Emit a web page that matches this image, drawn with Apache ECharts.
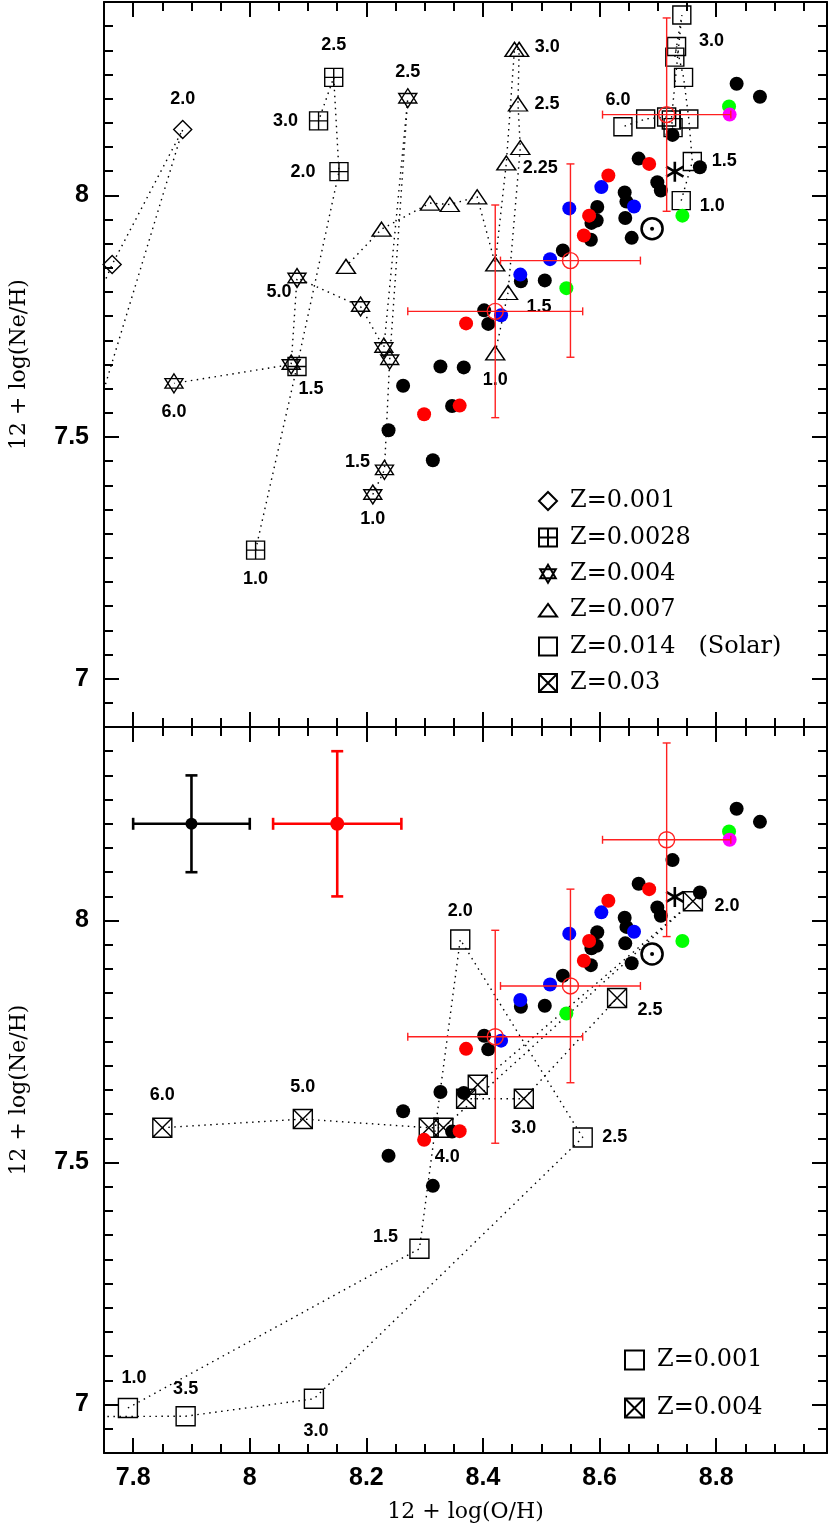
<!DOCTYPE html>
<html>
<head>
<meta charset="utf-8">
<title>12 + log(Ne/H) vs 12 + log(O/H)</title>
<script src="https://cdn.jsdelivr.net/npm/echarts@6/dist/echarts.min.js"></script>
<style>
  html, body { margin: 0; padding: 0; background: #fff; }
  #main { width: 830px; height: 1526px; }
</style>
</head>
<body>
<div id="main"></div>
<script>
// ---------------- data ----------------
// axis ranges and tick labels
var X_MIN = 7.75, X_MAX = 8.99, Y_MIN = 6.9, Y_MAX = 8.4;
var xMajor = [7.8, 8, 8.2, 8.4, 8.6, 8.8];
var yMajor = [7, 7.5, 8];

// observed objects: [12+log(O/H), 12+log(Ne/H)]
var obsBlack = [
  [8.835, 8.231], [8.875, 8.204], [8.725, 8.125], [8.667, 8.076], [8.772, 8.058],
  [8.699, 8.027], [8.705, 8.010], [8.643, 8.006], [8.646, 7.987], [8.596, 7.976],
  [8.595, 7.948], [8.586, 7.943], [8.644, 7.953], [8.585, 7.908], [8.655, 7.912],
  [8.537, 7.886], [8.506, 7.824], [8.465, 7.822], [8.402, 7.762], [8.409, 7.734],
  [8.327, 7.646], [8.367, 7.644], [8.263, 7.606], [8.347, 7.564], [8.238, 7.514],
  [8.314, 7.452]
];
var obsRed = [[8.685, 8.065], [8.615, 8.041], [8.582, 7.958], [8.573, 7.917], [8.371, 7.735], [8.360, 7.565], [8.299, 7.547]];
var obsBlue = [[8.603, 8.017], [8.659, 7.977], [8.548, 7.973], [8.515, 7.868], [8.464, 7.836], [8.431, 7.752]];
var obsGreen = [[8.822, 8.184], [8.742, 7.958], [8.543, 7.808]];
var obsMagenta = [[8.823, 8.167]];
var orionStar = [[8.729, 8.049]];
var solar = [[8.690, 7.931]];

// red open circles with error bars: [x, y, xerr, yerr]
var errRed = [[8.715, 8.167, 0.11, 0.2], [8.550, 7.865, 0.12, 0.2], [8.421, 7.760, 0.15, 0.22]];
// typical errors (lower panel)
var errTypBlack = [[7.90, 8.20, 0.10, 0.10]];
var errTypRed = [[8.15, 8.20, 0.11, 0.15]];

// upper panel model tracks (points in track order) and mass labels
var trackZ001 = [[7.70, 7.68], [7.764, 7.857], [7.885, 8.136], [7.70, 7.40]];
var massZ001 = ['', '', '2.0', ''];
var trackZ0028 = [[8.010, 7.266], [8.081, 7.646], [8.153, 8.049], [8.144, 8.244], [8.118, 8.154]];
var massZ0028 = ['1.0', '1.5', '2.0', '2.5', '3.0'];
var trackZ004 = [[8.211, 7.381], [8.231, 7.432], [8.240, 7.660], [8.271, 8.201], [8.230, 7.685],
  [8.190, 7.770], [8.081, 7.829], [8.071, 7.650], [7.870, 7.611]];
var massZ004 = ['1.0', '1.5', '', '2.5', '', '', '5.0', '', '6.0'];
var trackZ007 = [[8.421, 7.674], [8.443, 7.799], [8.464, 8.099], [8.460, 8.189], [8.462, 8.302],
  [8.454, 8.302], [8.440, 8.067], [8.421, 7.858], [8.390, 7.997], [8.343, 7.981],
  [8.309, 7.984], [8.226, 7.930], [8.165, 7.853]];
var massZ007 = ['1.0', '1.5', '', '2.5', '3.0', '', '2.25', '', '', '', '', '', ''];
var trackZ014 = [[8.740, 7.989], [8.759, 8.070], [8.753, 8.158], [8.744, 8.244], [8.732, 8.308],
  [8.729, 8.286], [8.741, 8.373], [8.723, 8.156], [8.726, 8.140], [8.715, 8.162],
  [8.679, 8.158], [8.640, 8.142]];
var massZ014 = ['1.0', '1.5', '', '', '3.0', '', '', '', '', '', '', '6.0'];

// lower panel model tracks
var trackLowZ001 = [[7.791, 6.993], [8.291, 7.322], [8.361, 7.961], [8.571, 7.552], [8.110, 7.012], [7.890, 6.976], [7.70, 6.975]];
var massLowZ001 = ['1.0', '1.5', '2.0', '2.5', '3.0', '3.5', ''];
var trackLowZ004 = [[7.850, 7.572], [8.091, 7.590], [8.307, 7.572], [8.332, 7.572], [8.760, 8.040],
  [8.391, 7.661], [8.371, 7.632], [8.470, 7.632], [8.630, 7.840]];
var massLowZ004 = ['6.0', '5.0', '', '4.0', '2.0', '', '', '3.0', '2.5'];

// ---------------- layout / style ----------------
// pixel offsets of the mass labels from their marker
var offZ001 = [null, null, [0, -31], null];
var offZ0028 = [[0, 29], [14, 23], [-36, 0], [0, -32], [-33, 0]];
var offZ004 = [[0, 25], [-27, -8], null, [0, -26], null, null, [-18, 14], null, [0, 29]];
var offZ007 = [[0, 27], [31, 15], null, [29, 0], [28, -2], null, [34, 5]];
var offZ014 = [[31, 5], [32, 0], null, null, [35, -5], null, null, null, null, null, null, [-5, -27]];
var offLowZ001 = [[6, -30], [-34, -12], [0, -28], [32, 0], [2, 32], [0, -27], null];
var offLowZ004 = [[0, -33], [0, -32], null, [4, 29], [34, 5], null, null, [0, 29], [33, 12]];

var SANS = 'Liberation Sans';
var SERIF = 'DejaVu Serif';
var SYM_DIAMOND = 'path://M1,0L2,1L1,2L0,1Z';
var SYM_BOXPLUS = 'path://M0,0H2V2H0ZM1,0V2M0,1H2';
var SYM_BOXX = 'path://M0,0H2V2H0ZM0,0L2,2M2,0L0,2';
var SYM_SQUARE = 'path://M0,0H2V2H0Z';
var SYM_STAR = 'path://M0,-1L0.866,0.5L-0.866,0.5ZM0,1L0.866,-0.5L-0.866,-0.5Z';
var SYM_TRI = 'path://M0,0L1,1.4L-1,1.4Z';
var SYM_AST = 'path://M0,-1L0,1M-0.866,-0.5L0.866,0.5M-0.866,0.5L0.866,-0.5';

var HOLLOW = { color: 'rgba(0,0,0,0)', borderColor: '#000', borderWidth: 1.4, opacity: 1 };
var DOT = { color: '#000', width: 1.4, type: [1.5, 4.5] };
var MASS_LABEL = { show: false, position: 'inside', color: '#000', fontSize: 18, fontWeight: 'bold', fontFamily: SANS };

function axes(dir, g, showLabels) {
  var isX = dir === 'x';
  var lo = isX ? X_MIN : Y_MIN, hi = isX ? X_MAX : Y_MAX;
  var major = isX ? xMajor : yMajor;
  var sides = isX ? ['bottom', 'top'] : ['left', 'right'];
  var line = { color: '#000', width: 2 };
  var list = [];
  sides.forEach(function (side, s) {
    list.push({
      type: 'value', gridIndex: g, position: side, min: lo, max: hi,
      splitLine: { show: false },
      axisLine: { show: true, onZero: false, lineStyle: line },
      axisTick: { show: true, inside: true, length: 15, customValues: major, lineStyle: line },
      axisLabel: {
        show: s === 0 && showLabels, customValues: major, color: '#000',
        fontSize: 25, fontWeight: 'bold', fontFamily: SANS, margin: isX ? 13 : 15
      },
      name: s === 0 && showLabels ? (isX ? '12 + log(O/H)' : '12 + log(Ne/H)') : '',
      nameLocation: 'middle', nameGap: isX ? 48 : 74,
      nameTextStyle: { color: '#000', fontSize: 22, fontFamily: SERIF }
    });
    list.push({
      type: 'value', gridIndex: g, position: side, min: lo, max: hi, interval: 0.05,
      splitLine: { show: false },
      axisLine: { show: false, onZero: false },
      axisTick: { show: true, inside: true, length: 9, lineStyle: line },
      axisLabel: { show: false }
    });
  });
  return list;
}

function trackSeries(g, name, pts, masses, offs, symbol, size) {
  var items = pts.map(function (p, i) {
    var it = { value: p };
    if (masses[i]) it.label = { show: true, formatter: masses[i], offset: offs[i] || [0, 0] };
    return it;
  });
  return [
    { type: 'line', name: name + ' track', xAxisIndex: 4 * g, yAxisIndex: 4 * g, data: pts,
      symbol: 'none', lineStyle: DOT, silent: true, z: 2 },
    { type: 'scatter', name: name, xAxisIndex: 4 * g, yAxisIndex: 4 * g, data: items,
      symbol: symbol, symbolSize: size, itemStyle: HOLLOW, label: MASS_LABEL, z: 3 }
  ];
}

function errBar(lw, cap, color) {
  return function (params, api) {
    var x = api.value(0), y = api.value(1), ex = api.value(2), ey = api.value(3);
    var l = api.coord([x - ex, y]), r = api.coord([x + ex, y]);
    var t = api.coord([x, y + ey]), b = api.coord([x, y - ey]);
    var h = cap / 2;
    var st = { stroke: color, lineWidth: lw };
    function seg(x1, y1, x2, y2) { return { type: 'line', shape: { x1: x1, y1: y1, x2: x2, y2: y2 }, style: st }; }
    return {
      type: 'group',
      children: [
        seg(l[0], l[1], r[0], r[1]), seg(t[0], t[1], b[0], b[1]),
        seg(l[0], l[1] - h, l[0], l[1] + h), seg(r[0], r[1] - h, r[0], r[1] + h),
        seg(t[0] - h, t[1], t[0] + h, t[1]), seg(b[0] - h, b[1], b[0] + h, b[1])
      ]
    };
  };
}

function obsSeries(g) {
  var ax = { xAxisIndex: 4 * g, yAxisIndex: 4 * g };
  function dots(data, color) {
    return Object.assign({ type: 'scatter', data: data, symbol: 'circle', symbolSize: 14,
      itemStyle: { color: color, opacity: 1 }, silent: true, z: 4 }, ax);
  }
  return [
    dots(obsBlack, '#000'), dots(obsRed, '#ff0000'), dots(obsBlue, '#0000ff'),
    dots(obsGreen, '#00ff00'), dots(obsMagenta, '#ff00ff'),
    Object.assign({ type: 'scatter', data: orionStar, symbol: SYM_AST, symbolSize: 20, symbolKeepAspect: true,
      itemStyle: { color: 'rgba(0,0,0,0)', borderColor: '#000', borderWidth: 2.6, opacity: 1 }, silent: true, z: 5 }, ax),
    Object.assign({ type: 'scatter', data: solar, symbol: 'circle', symbolSize: 21,
      itemStyle: { color: 'rgba(0,0,0,0)', borderColor: '#000', borderWidth: 2.6, opacity: 1 }, silent: true, z: 5 }, ax),
    Object.assign({ type: 'scatter', data: solar, symbol: 'circle', symbolSize: 4,
      itemStyle: { color: '#000', opacity: 1 }, silent: true, z: 5 }, ax),
    Object.assign({ type: 'custom', data: errRed, renderItem: errBar(1.4, 8, '#ff2020'),
      encode: { x: 0, y: 1 }, silent: true, z: 6 }, ax),
    Object.assign({ type: 'scatter', data: errRed.map(function (e) { return [e[0], e[1]]; }),
      symbol: 'circle', symbolSize: 16,
      itemStyle: { color: 'rgba(0,0,0,0)', borderColor: '#ff2020', borderWidth: 1.4, opacity: 1 }, silent: true, z: 6 }, ax)
  ];
}

var series = [];
series = series.concat(
  trackSeries(0, 'Z=0.001#t', trackZ001, massZ001, offZ001, SYM_DIAMOND, [18, 18]),
  trackSeries(0, 'Z=0.0028#t', trackZ0028, massZ0028, offZ0028, SYM_BOXPLUS, [18, 18]),
  trackSeries(0, 'Z=0.004#t', trackZ004, massZ004, offZ004, SYM_STAR, [18, 19]),
  trackSeries(0, 'Z=0.007#t', trackZ007, massZ007, offZ007, SYM_TRI, [19, 14]),
  trackSeries(0, 'Z=0.014   (Solar)#t', trackZ014, massZ014, offZ014, SYM_SQUARE, [18, 18]),
  [{ type: 'scatter', name: 'Z=0.03#t', xAxisIndex: 0, yAxisIndex: 0, data: [],
     symbol: SYM_BOXX, symbolSize: [18, 18], itemStyle: HOLLOW }],
  obsSeries(0),
  trackSeries(1, 'Z=0.001#b', trackLowZ001, massLowZ001, offLowZ001, SYM_SQUARE, [19, 19]),
  trackSeries(1, 'Z=0.004#b', trackLowZ004, massLowZ004, offLowZ004, SYM_BOXX, [19, 19]),
  obsSeries(1),
  [
    { type: 'custom', xAxisIndex: 4, yAxisIndex: 4, data: errTypBlack, renderItem: errBar(2.6, 12, '#000'),
      encode: { x: 0, y: 1 }, silent: true, z: 6 },
    { type: 'scatter', xAxisIndex: 4, yAxisIndex: 4, data: errTypBlack.map(function (e) { return [e[0], e[1]]; }),
      symbol: 'circle', symbolSize: 12, itemStyle: { color: '#000', opacity: 1 }, silent: true, z: 7 },
    { type: 'custom', xAxisIndex: 4, yAxisIndex: 4, data: errTypRed, renderItem: errBar(2.6, 12, '#ff0000'),
      encode: { x: 0, y: 1 }, silent: true, z: 6 },
    { type: 'scatter', xAxisIndex: 4, yAxisIndex: 4, data: errTypRed.map(function (e) { return [e[0], e[1]]; }),
      symbol: 'circle', symbolSize: 14, itemStyle: { color: '#ff0000', opacity: 1 }, silent: true, z: 7 }
  ]
);

var legendText = { color: '#000', fontSize: 24, fontFamily: SERIF, lineHeight: 22, padding: [0, 0, 0, 8] };
function legendName(n) { return n.split('#')[0]; }

var chart = echarts.init(document.getElementById('main'));
chart.setOption({
  animation: false,
  backgroundColor: '#fff',
  grid: [
    { left: 103, right: 3, top: 2, height: 725 },
    { left: 103, right: 3, top: 727, height: 726 }
  ],
  xAxis: axes('x', 0, false).concat(axes('x', 1, true)),
  yAxis: axes('y', 0, true).concat(axes('y', 1, true)),
  legend: [
    { orient: 'vertical', left: 533, top: 484, itemWidth: 18, itemHeight: 18, itemGap: 12.4,
      selectedMode: false, textStyle: legendText, formatter: legendName,
      data: ['Z=0.001#t', 'Z=0.0028#t', 'Z=0.004#t', 'Z=0.007#t', 'Z=0.014   (Solar)#t', 'Z=0.03#t'] },
    { orient: 'vertical', left: 619, top: 1343, itemWidth: 19, itemHeight: 19, itemGap: 24,
      selectedMode: false, textStyle: legendText, formatter: legendName,
      data: ['Z=0.001#b', 'Z=0.004#b'] }
  ],
  series: series
});
</script>
</body>
</html>
